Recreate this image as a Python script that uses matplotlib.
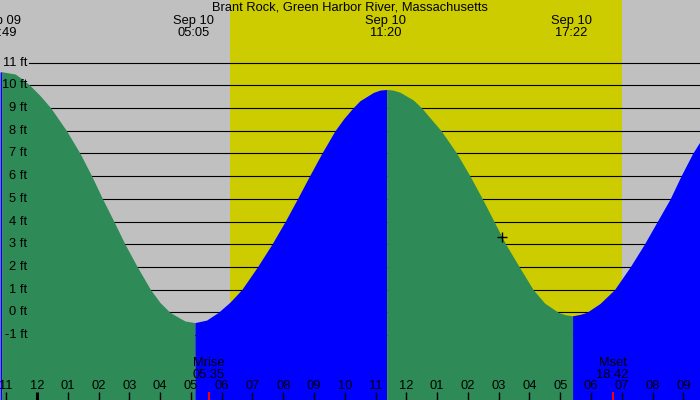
import numpy as np
import matplotlib
matplotlib.use("Agg")
import matplotlib.pyplot as plt
from matplotlib.transforms import blended_transform_factory

# tide height; hours after midnight Sep 10 (negative = Sep 09)
curve_hours = [-1.20, -1.14, -0.71, -0.49, -0.23, 0.10, 0.45, 0.96, 1.40, 1.78,
               2.13, 2.50, 2.86, 3.26, 3.69, 4.00, 4.32, 4.65, 4.81, 5.13,
               5.51, 5.89, 6.27, 6.65, 7.16, 7.63, 8.06, 8.46, 8.85, 9.25,
               9.68, 9.97, 10.26, 10.49, 10.93, 11.14, 11.36, 11.57, 11.79, 12.23,
               12.50, 12.80, 13.13, 13.64, 14.07, 14.47, 14.85, 15.23, 15.67, 16.12,
               16.50, 16.94, 17.15, 17.40, 17.64, 17.86, 18.29, 18.76, 19.27, 19.73,
               20.15, 20.57, 20.92, 21.30, 21.54]
curve_ft = [10.59, 10.60, 10.50, 10.29, 10.0, 9.55, 9.0, 8.0, 7.0, 6.0,
            5.0, 4.0, 3.0, 2.0, 1.0, 0.43, 0.0, -0.26, -0.38, -0.45,
            -0.34, 0.0, 0.45, 1.0, 2.0, 3.0, 4.0, 5.0, 6.0, 7.0,
            8.0, 8.54, 9.0, 9.32, 9.69, 9.79, 9.82, 9.79, 9.70, 9.35,
            9.0, 8.52, 8.0, 7.0, 6.0, 5.0, 4.0, 3.0, 2.0, 1.0,
            0.40, 0.0, -0.10, -0.15, -0.09, 0.0, 0.39, 1.0, 2.0, 3.0,
            4.0, 5.0, 6.0, 7.0, 7.52]

extreme_hours = [-1.183, 5.083, 11.333, 17.367]
extreme_dates = ["Sep 09", "Sep 10", "Sep 10", "Sep 10"]
extreme_times = ["22:49", "05:05", "11:20", "17:22"]

sunrise = 6.27
sunset = 19.01

moon_hours = [5.583, 18.70]
moon_labels = ["Mrise\n05:35", "Mset\n18:42"]

hour_ticks = list(range(-1, 22))
hour_labels = ["11", "12", "01", "02", "03", "04", "05", "06", "07", "08", "09", "10",
               "11", "12", "01", "02", "03", "04", "05", "06", "07", "08", "09"]

ft_levels = list(range(-1, 12))

marker_hour, marker_ft = 15.10, 3.33

GRAY = "#C0C0C0"
YELLOW = "#CCCC00"
GREEN = "#2E8B57"
BLUE = "#0000FF"

plt.rcParams["font.family"] = ["Liberation Sans", "DejaVu Sans"]
FS = 9.3

fig = plt.figure(figsize=(7, 4), dpi=100)
ax = fig.add_axes([0, 0, 1, 1])
ax.set_xlim(-1.202, 21.54)
ax.set_ylim(-3.86, 13.76)
ax.axis("off")
ax.add_patch(plt.Rectangle((0, 0), 1, 1, transform=ax.transAxes, color=GRAY, zorder=0))

ax.axvspan(sunrise, sunset, color=YELLOW, zorder=0.5, lw=0)

for lvl in ft_levels:
    ax.axhline(lvl, xmin=0.042, xmax=1, color="black", lw=0.8, zorder=1)

# green while falling, blue while rising
x = np.array(curve_hours)
y = np.array(curve_ft)
sign = np.sign(np.diff(y))
start = 0
for i in range(1, len(sign) + 1):
    if i == len(sign) or sign[i] != sign[start]:
        col = GREEN if sign[start] < 0 else BLUE
        ax.fill_between(x[start:i + 1], y[start:i + 1], -5, color=col, lw=0, zorder=2)
        start = i

yt = blended_transform_factory(ax.transAxes, ax.transData)
for lvl in ft_levels:
    ax.text(0.039, lvl, f"{lvl} ft", ha="right", va="center", fontsize=FS,
            transform=yt, zorder=5)

xt = blended_transform_factory(ax.transData, ax.transAxes)
ax.text(0.5, 0.9825, "Brant Rock, Green Harbor River, Massachusetts", ha="center",
        va="center", fontsize=FS, transform=ax.transAxes, zorder=5)
for h, d, t in zip(extreme_hours, extreme_dates, extreme_times):
    ax.text(h, 0.933, f"{d}\n{t}", ha="center", va="center", fontsize=FS,
            linespacing=0.95, transform=xt, zorder=5)

for h, lab in zip(hour_ticks, hour_labels):
    ax.text(h, 0.035, lab, ha="center", va="center", fontsize=FS, transform=xt, zorder=5)
    ax.plot([h, h], [0, 0.02], color="black", lw=2.2 if h == 0 else 1.0,
            transform=xt, zorder=5, solid_capstyle="butt")

for h, lab in zip(moon_hours, moon_labels):
    ax.plot([h, h], [0, 0.02], color="red", lw=1.4, transform=xt, zorder=5,
            solid_capstyle="butt")
    ax.text(h, 0.078, lab, ha="center", va="center", fontsize=FS, linespacing=0.95,
            transform=xt, zorder=5)

ax.plot(marker_hour, marker_ft, marker="+", color="black", ms=7, mew=1, zorder=6)

fig.savefig("out.png", dpi=100)
